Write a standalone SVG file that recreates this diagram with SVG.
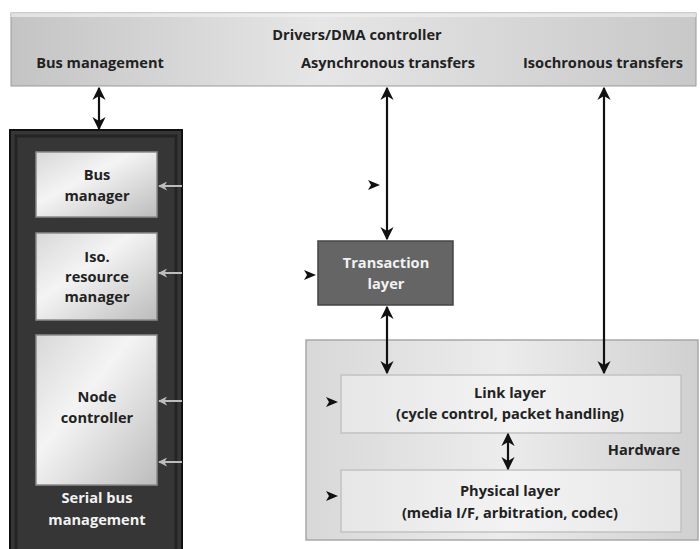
<svg xmlns="http://www.w3.org/2000/svg" width="700" height="549" viewBox="0 0 700 549">
  <style>
    .t { font-family: "Open Sans", "Liberation Sans", sans-serif; font-weight: bold; font-size: 14.6px; fill: #222; text-anchor: middle; }
    .w { fill: #f2f2f2; }
    .conn { stroke: #111; stroke-width: 2.2; fill: none; }
    .feed { stroke: #bdbdbd; stroke-width: 2; fill: none; }
  </style>
  <defs>
    <linearGradient id="barG" x1="0" y1="0" x2="1" y2="0">
      <stop offset="0" stop-color="#c4c4c4"/>
      <stop offset="0.45" stop-color="#e6e6e6"/>
      <stop offset="1" stop-color="#c8c8c8"/>
    </linearGradient>
    <linearGradient id="boxG" x1="0" y1="0" x2="1" y2="1">
      <stop offset="0" stop-color="#d8d8d8"/>
      <stop offset="0.4" stop-color="#f4f4f4"/>
      <stop offset="1" stop-color="#bcbcbc"/>
    </linearGradient>
    <linearGradient id="hwG" x1="0" y1="0" x2="1" y2="0">
      <stop offset="0" stop-color="#d8d8d8"/>
      <stop offset="0.5" stop-color="#ececec"/>
      <stop offset="1" stop-color="#d0d0d0"/>
    </linearGradient>
    <linearGradient id="layerG" x1="0" y1="0" x2="1" y2="0">
      <stop offset="0" stop-color="#e6e6e6"/>
      <stop offset="0.5" stop-color="#f3f3f3"/>
      <stop offset="1" stop-color="#e6e6e6"/>
    </linearGradient>
    <marker id="ah" viewBox="0 0 10 10" refX="9" refY="5" markerWidth="6" markerHeight="6" orient="auto-start-reverse">
      <path d="M0,0 L10,5 L0,10 L3,5 Z" fill="#111"/>
    </marker>
    <marker id="ahg" viewBox="0 0 10 10" refX="9" refY="5" markerWidth="4.5" markerHeight="4.5" orient="auto">
      <path d="M0,0 L10,5 L0,10 L3,5 Z" fill="#bdbdbd"/>
    </marker>
    <path id="tip" d="M0,-5 L12,0 L0,5 L3,0 Z" fill="#111"/>
  </defs>

  <!-- Top bar: drivers / DMA controller -->
  <g id="drivers">
    <rect x="11" y="13" width="685" height="73" fill="url(#barG)" stroke="#9a9a9a" stroke-width="1"/>
    <rect x="11" y="13" width="685" height="4" fill="#f0f0f0" opacity="0.7"/>
    <text class="t" x="357" y="40">Drivers/DMA controller</text>
    <text class="t" x="100" y="68">Bus management</text>
    <text class="t" x="388" y="68">Asynchronous transfers</text>
    <text class="t" x="603" y="68">Isochronous transfers</text>
  </g>

  <!-- Serial bus management panel -->
  <g id="serial-bus-management">
    <rect x="10" y="130" width="172" height="425" fill="#363636" stroke="#111" stroke-width="2"/>
    <rect x="16" y="136" width="160" height="419" fill="none" stroke="#242424" stroke-width="3"/>
    <text class="t w" x="97" y="503">Serial bus</text>
    <text class="t w" x="97" y="525">management</text>
  </g>
  <g id="bus-manager">
    <rect x="36" y="152" width="121" height="65" fill="url(#boxG)" stroke="#8a8a8a" stroke-width="1.5"/>
    <text class="t" x="97" y="180">Bus</text>
    <text class="t" x="97" y="201">manager</text>
  </g>
  <g id="iso-resource-manager">
    <rect x="36" y="233" width="121" height="87" fill="url(#boxG)" stroke="#8a8a8a" stroke-width="1.5"/>
    <text class="t" x="97" y="262">Iso.</text>
    <text class="t" x="97" y="282">resource</text>
    <text class="t" x="97" y="302">manager</text>
  </g>
  <g id="node-controller">
    <rect x="36" y="335" width="121" height="150" fill="url(#boxG)" stroke="#8a8a8a" stroke-width="1.5"/>
    <text class="t" x="97" y="402">Node</text>
    <text class="t" x="97" y="423">controller</text>
  </g>

  <!-- Transaction layer -->
  <g id="transaction-layer">
    <rect x="318" y="241" width="135" height="64" fill="#656565" stroke="#444" stroke-width="1.5"/>
    <text class="t w" x="386" y="268">Transaction</text>
    <text class="t w" x="386" y="289">layer</text>
  </g>

  <!-- Hardware block -->
  <g id="hardware">
    <rect x="306" y="340" width="392" height="200" fill="url(#hwG)" stroke="#a8a8a8" stroke-width="1.5"/>
    <text class="t" x="644" y="455">Hardware</text>
  </g>
  <g id="link-layer">
    <rect x="341" y="375" width="340" height="58" fill="url(#layerG)" stroke="#c2c2c2" stroke-width="1.5"/>
    <text class="t" x="510" y="398">Link layer</text>
    <text class="t" x="510" y="419">(cycle control, packet handling)</text>
  </g>
  <g id="physical-layer">
    <rect x="341" y="470" width="340" height="62" fill="url(#layerG)" stroke="#c2c2c2" stroke-width="1.5"/>
    <text class="t" x="510" y="496">Physical layer</text>
    <text class="t" x="510" y="518">(media I/F, arbitration, codec)</text>
  </g>

  <!-- Connectors -->
  <g id="connectors">
    <line class="conn" x1="99" y1="88" x2="99" y2="129" marker-start="url(#ah)" marker-end="url(#ah)"/>
    <line class="conn" x1="387" y1="88" x2="387" y2="239" marker-start="url(#ah)" marker-end="url(#ah)"/>
    <line class="conn" x1="387" y1="307" x2="387" y2="373" marker-start="url(#ah)" marker-end="url(#ah)"/>
    <line class="conn" x1="604" y1="88" x2="604" y2="373" marker-start="url(#ah)" marker-end="url(#ah)"/>
    <line class="conn" x1="508" y1="434" x2="508" y2="469" marker-start="url(#ah)" marker-end="url(#ah)"/>

    <!-- inputs into the management units -->
    <line class="feed" x1="182" y1="186" x2="159" y2="186" marker-end="url(#ahg)"/>
    <line class="feed" x1="182" y1="273" x2="159" y2="273" marker-end="url(#ahg)"/>
    <line class="feed" x1="182" y1="401" x2="159" y2="401" marker-end="url(#ahg)"/>
    <line class="feed" x1="182" y1="462" x2="159" y2="462" marker-end="url(#ahg)"/>

    <!-- management access points -->
    <use href="#tip" x="368" y="185"/>
    <use href="#tip" x="304" y="275"/>
    <use href="#tip" x="326" y="402"/>
    <use href="#tip" x="326" y="496"/>
  </g>
</svg>
